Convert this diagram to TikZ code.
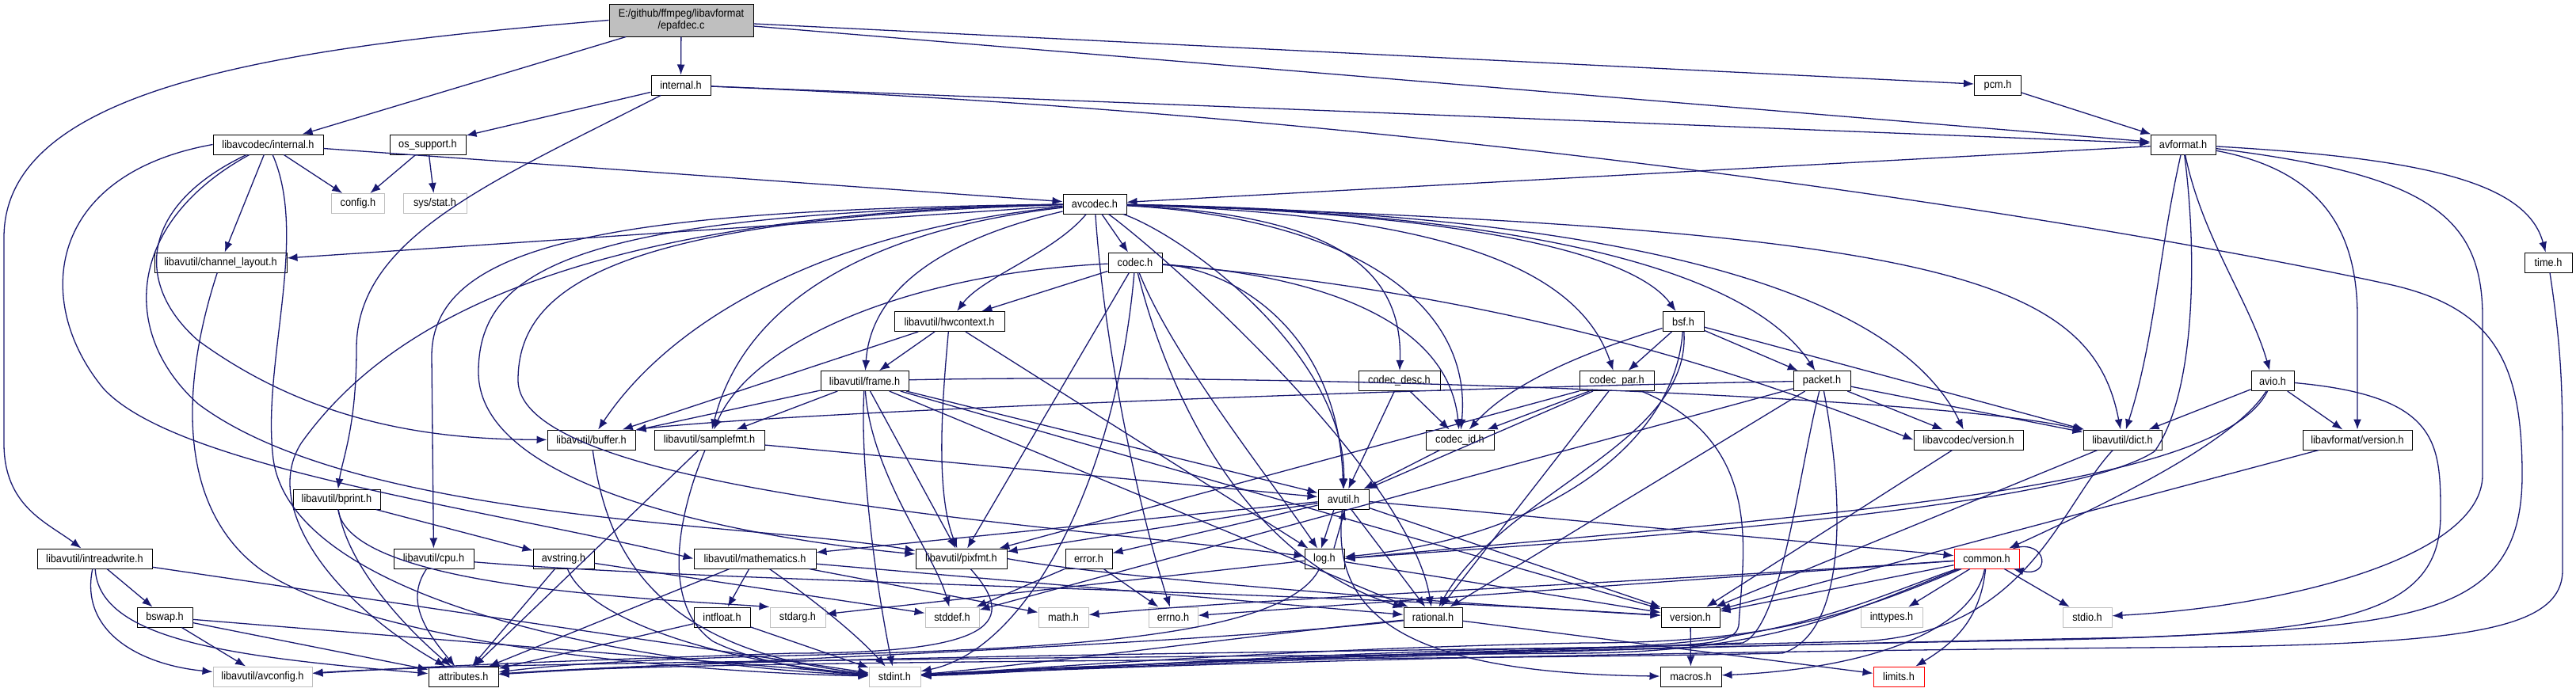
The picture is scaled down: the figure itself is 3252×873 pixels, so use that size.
\documentclass[tikz,border=0pt]{standalone}
\usepackage{fontspec}
\setmainfont{Liberation Sans}[FakeStretch=0.91]
\usetikzlibrary{arrows.meta}

\definecolor{depblue}{HTML}{191970}
\definecolor{extgray}{HTML}{BFBFBF}
\definecolor{rootgray}{HTML}{BFBFBF}
\newcommand{\hdrfont}{\fontsize{14pt}{15pt}\selectfont}

\begin{document}
\begin{tikzpicture}[
    x=1pt, y=-1pt,
    doc/.style={draw=black, line width=1pt, fill=white, minimum height=25pt, inner xsep=4pt, inner ysep=0pt, font=\hdrfont},
    ext/.style={doc, draw=extgray},
    trunc/.style={doc, draw=red},
    rootnode/.style={doc, fill=rootgray, minimum height=41pt, align=center},
    dep/.style={draw=depblue, line width=1.3pt, -{Latex[length=13pt,width=10pt]}}
]
\useasboundingbox (0,0) rectangle (3252,873);

% files
\node[rootnode, minimum width=182pt] (epafdec) at (860,25.5) {E:/github/ffmpeg/libavformat\\/epafdec.c};
\node[doc, minimum width=75pt] (lavfint) at (859.5,107.5) {internal.h};
\node[doc, minimum width=59pt] (pcm) at (2522,107.5) {pcm.h};
\node[doc, minimum width=139pt] (lavcint) at (338.5,182.5) {libavcodec/internal.h};
\node[doc, minimum width=96pt] (ossup) at (540,182.5) {os\_support.h};
\node[doc, minimum width=82pt] (avformat) at (2756,182.5) {avformat.h};
\node[ext, minimum width=67pt] (config) at (452,257) {config.h};
\node[ext, minimum width=80pt] (sysstat) at (549,257) {sys/stat.h};
\node[doc, minimum width=80pt] (avcodec) at (1382,257.5) {avcodec.h};
\node[doc, minimum width=167pt] (chlayout) at (278.5,331.5) {libavutil/channel\_layout.h};
\node[doc, minimum width=68pt] (codec) at (1433,331.5) {codec.h};
\node[doc, minimum width=60pt] (timeh) at (3217,331.5) {time.h};
\node[doc, minimum width=139pt] (hwctx) at (1198.5,406) {libavutil/hwcontext.h};
\node[doc, minimum width=52pt] (bsf) at (2125,406) {bsf.h};
\node[doc, minimum width=111pt] (frame) at (1091.5,481) {libavutil/frame.h};
\node[doc, minimum width=103pt] (codecdesc) at (1766.5,481) {codec\_desc.h};
\node[doc, minimum width=94pt] (codecpar) at (2041,481) {codec\_par.h};
\node[doc, minimum width=72pt] (packet) at (2300,481) {packet.h};
\node[doc, minimum width=54pt] (avio) at (2869,481) {avio.h};
\node[doc, minimum width=111pt] (buffer) at (746.5,555.5) {libavutil/buffer.h};
\node[doc, minimum width=139pt] (samplefmt) at (895.5,555.5) {libavutil/samplefmt.h};
\node[doc, minimum width=86pt] (codecid) at (1843,555.5) {codec\_id.h};
\node[doc, minimum width=138pt] (lavcver) at (2485,555.5) {libavcodec/version.h};
\node[doc, minimum width=99pt] (dict) at (2679.5,555.5) {libavutil/dict.h};
\node[doc, minimum width=138pt] (lavfver) at (2976,555.5) {libavformat/version.h};
\node[doc, minimum width=110pt] (bprint) at (425,630.5) {libavutil/bprint.h};
\node[doc, minimum width=64pt] (avutil) at (1696,630.5) {avutil.h};
\node[doc, minimum width=145pt] (intrw) at (119.5,705.5) {libavutil/intreadwrite.h};
\node[doc, minimum width=101pt] (cpu) at (547.5,705.5) {libavutil/cpu.h};
\node[doc, minimum width=77pt] (avstring) at (711.5,705.5) {avstring.h};
\node[doc, minimum width=154pt] (mathem) at (953,705.5) {libavutil/mathematics.h};
\node[doc, minimum width=115pt] (pixfmt) at (1213.5,705.5) {libavutil/pixfmt.h};
\node[doc, minimum width=59pt] (error) at (1374.5,705.5) {error.h};
\node[doc, minimum width=50pt] (logh) at (1672,705.5) {log.h};
\node[trunc, minimum width=82pt] (common) at (2508,705.5) {common.h};
\node[doc, minimum width=70pt] (bswap) at (208,779.5) {bswap.h};
\node[doc, minimum width=71pt] (intfloat) at (911.5,779.5) {intfloat.h};
\node[ext, minimum width=70pt] (stdarg) at (1007,779.5) {stdarg.h};
\node[ext, minimum width=68pt] (stddef) at (1202,779.5) {stddef.h};
\node[ext, minimum width=63pt] (mathh) at (1342.5,779.5) {math.h};
\node[ext, minimum width=62pt] (errno) at (1481,779.5) {errno.h};
\node[doc, minimum width=74pt] (rational) at (1809,779.5) {rational.h};
\node[doc, minimum width=74pt] (version) at (2134,779.5) {version.h};
\node[ext, minimum width=78pt] (inttypes) at (2388,779.5) {inttypes.h};
\node[ext, minimum width=62pt] (stdio) at (2635,779.5) {stdio.h};
\node[ext, minimum width=125pt] (avconfig) at (331.5,854.5) {libavutil/avconfig.h};
\node[doc, minimum width=88pt] (attributes) at (585,854.5) {attributes.h};
\node[ext, minimum width=65pt] (stdint) at (1129.5,854.5) {stdint.h};
\node[doc, minimum width=77pt] (macros) at (2134.5,854.5) {macros.h};
\node[trunc, minimum width=64pt] (limits) at (2397,854.5) {limits.h};

% epafdec.c
\draw[dep] (epafdec.west) .. controls (350,60) and (5,110) .. (5,300) -- (5,560) .. controls (5,640) and (60,660) .. (intrw);
\draw[dep] (epafdec) -- (lavcint);
\draw[dep] (epafdec) -- (lavfint);
\draw[dep] (epafdec) -- (pcm);
\draw[dep] (epafdec) -- (avformat);

% internal.h
\draw[dep] (lavfint) -- (ossup);
\draw[dep] (lavfint) -- (avformat);
\draw[dep] (lavfint) .. controls (620,230) and (450,300) .. (450,440) .. controls (450,540) and (432,580) .. (bprint);
\draw[dep] (lavfint) .. controls (1900,150) and (2750,300) .. (3020,360) .. controls (3150,390) and (3184,460) .. (3184,600) .. controls (3184,780) and (3050,790) .. (2700,805) .. controls (2000,818) and (1400,842) .. (stdint);
\draw[dep] (pcm) -- (avformat);

% libavcodec/internal.h
\draw[dep] (lavcint) -- (avcodec);
\draw[dep] (lavcint) -- (config);
\draw[dep] (lavcint) -- (chlayout);
\draw[dep] (lavcint.west) .. controls (60,220) and (40,380) .. (130,490) .. controls (220,590) and (600,640) .. (mathem.west);
\draw[dep] (lavcint) .. controls (175,260) and (170,360) .. (250,430) .. controls (400,540) and (560,555) .. (buffer);
\draw[dep] (lavcint) .. controls (160,280) and (150,420) .. (250,510) .. controls (450,660) and (950,660) .. (pixfmt);
\draw[dep] (lavcint) .. controls (390,300) and (330,460) .. (345,580) .. controls (370,760) and (800,840) .. (stdint);
\draw[dep] (ossup) -- (config);
\draw[dep] (ossup) -- (sysstat);

% avformat.h
\draw[dep] (avformat) -- (avcodec);
\draw[dep] (avformat) .. controls (2725,320) and (2720,430) .. (dict);
\draw[dep] (avformat) .. controls (2775,330) and (2770,500) .. (2720,570) .. controls (2600,650) and (1900,690) .. (logh.east);
\draw[dep] (avformat) .. controls (2780,300) and (2840,380) .. (avio);
\draw[dep] (avformat) .. controls (2930,215) and (2976,290) .. (2976,400) -- (lavfver);
\draw[dep] (avformat) .. controls (3060,220) and (3134,270) .. (3134,400) -- (3134,600) .. controls (3134,700) and (2900,765) .. (stdio);
\draw[dep] (avformat) .. controls (3060,200) and (3190,230) .. (timeh);

% avcodec.h
\draw[dep] (avcodec) -- (codec);
\draw[dep] (avcodec) .. controls (1330,320) and (1240,350) .. (hwctx);
\draw[dep] (avcodec) .. controls (1200,300) and (1100,360) .. (frame);
\draw[dep] (avcodec) .. controls (1100,290) and (940,380) .. (samplefmt);
\draw[dep] (avcodec) .. controls (1050,290) and (850,400) .. (buffer);
\draw[dep] (avcodec) -- (chlayout);
\draw[dep] (avcodec) .. controls (800,265) and (545,300) .. (545,450) -- (cpu);
\draw[dep] (avcodec) .. controls (700,270) and (480,420) .. (380,560) .. controls (330,640) and (420,760) .. (attributes);
\draw[dep] (avcodec) .. controls (750,270) and (604,330) .. (604,470) .. controls (604,620) and (950,680) .. (pixfmt);
\draw[dep] (avcodec) .. controls (780,275) and (654,360) .. (654,480) .. controls (654,620) and (1300,660) .. (logh);
\draw[dep] (avcodec) .. controls (1395,450) and (1440,650) .. (errno);
\draw[dep] (avcodec) .. controls (1500,300) and (1700,450) .. (avutil);
\draw[dep] (avcodec) .. controls (1480,330) and (1780,600) .. (rational);
\draw[dep] (avcodec) .. controls (1650,270) and (1772,320) .. (codecdesc);
\draw[dep] (avcodec) .. controls (1700,275) and (1860,380) .. (codecid);
\draw[dep] (avcodec) .. controls (1800,270) and (1990,330) .. (codecpar);
\draw[dep] (avcodec) .. controls (1900,270) and (2070,330) .. (bsf);
\draw[dep] (avcodec) .. controls (2000,270) and (2220,360) .. (packet);
\draw[dep] (avcodec) .. controls (2100,270) and (2400,380) .. (lavcver);
\draw[dep] (avcodec) .. controls (2450,290) and (2640,350) .. (dict);

% codec.h
\draw[dep] (codec) -- (hwctx);
\draw[dep] (codec) .. controls (1150,345) and (950,430) .. (samplefmt);
\draw[dep] (codec) -- (pixfmt);
\draw[dep] (codec) .. controls (1410,600) and (1300,820) .. (stdint);
\draw[dep] (codec) .. controls (1470,480) and (1560,700) .. (rational);
\draw[dep] (codec) .. controls (1480,450) and (1600,600) .. (logh);
\draw[dep] (codec) .. controls (1560,340) and (1690,420) .. (avutil);
\draw[dep] (codec) .. controls (1700,350) and (1830,420) .. (codecid);
\draw[dep] (codec) .. controls (1900,370) and (2200,470) .. (lavcver.west);

% libavutil/hwcontext.h, libavutil/frame.h
\draw[dep] (hwctx) -- (buffer);
\draw[dep] (hwctx) -- (frame);
\draw[dep] (hwctx) .. controls (1190,500) and (1180,620) .. (pixfmt);
\draw[dep] (hwctx) -- (logh);
\draw[dep] (frame) .. controls (1600,470) and (2450,500) .. (dict);
\draw[dep] (frame) -- (buffer);
\draw[dep] (frame) -- (samplefmt);
\draw[dep] (frame) .. controls (1085,600) and (1110,760) .. (stdint);
\draw[dep] (frame) .. controls (1100,600) and (1180,700) .. (stddef);
\draw[dep] (frame) -- (pixfmt);
\draw[dep] (frame) -- (avutil);
\draw[dep] (frame) -- (rational);
\draw[dep] (frame) -- (version);

% libavutil/samplefmt.h, buffer.h, channel_layout.h
\draw[dep] (samplefmt) -- (attributes);
\draw[dep] (samplefmt) .. controls (860,640) and (830,760) .. (900,810) .. controls (960,840) and (1050,850) .. (stdint);
\draw[dep] (samplefmt) -- (avutil);
\draw[dep] (buffer) .. controls (765,690) and (820,820) .. (stdint);
\draw[dep] (chlayout) .. controls (230,480) and (220,640) .. (330,720) .. controls (480,820) and (900,850) .. (stdint);

% codec_desc.h, codec_id.h, codec_par.h
\draw[dep] (codecdesc) -- (avutil);
\draw[dep] (codecdesc) -- (codecid);
\draw[dep] (codecid) -- (avutil);
\draw[dep] (codecpar) -- (codecid);
\draw[dep] (codecpar) -- (pixfmt);
\draw[dep] (codecpar) -- (avutil);
\draw[dep] (codecpar) -- (rational);
\draw[dep] (codecpar) .. controls (2230,560) and (2200,700) .. (2195,790) .. controls (2190,815) and (2150,815) .. (2000,818) .. controls (1600,825) and (1300,850) .. (stdint);

% packet.h
\draw[dep] (packet) .. controls (1800,490) and (1000,520) .. (buffer.north east);
\draw[dep] (packet) -- (lavcver);
\draw[dep] (packet) -- (dict);
\draw[dep] (packet) -- (stddef);
\draw[dep] (packet) .. controls (2270,600) and (2250,790) .. (2200,812) .. controls (2000,820) and (1350,840) .. (stdint);
\draw[dep] (packet) .. controls (2330,640) and (2330,800) .. (2250,825) .. controls (1800,835) and (900,832) .. (attributes);
\draw[dep] (packet) -- (rational);

% bsf.h
\draw[dep] (bsf) .. controls (2050,430) and (1920,470) .. (codecid);
\draw[dep] (bsf) -- (codecpar);
\draw[dep] (bsf) -- (packet);
\draw[dep] (bsf) -- (dict);
\draw[dep] (bsf) .. controls (2115,560) and (1950,680) .. (logh);
\draw[dep] (bsf) .. controls (2135,560) and (1900,620) .. (rational);

% version files, dict.h
\draw[dep] (lavcver) -- (version);
\draw[dep] (dict) -- (version);
\draw[dep] (dict) .. controls (2600,640) and (2560,800) .. (2350,810) .. controls (1800,822) and (1350,842) .. (stdint);
\draw[dep] (lavfver) -- (version);

% avio.h
\draw[dep] (avio) -- (dict);
\draw[dep] (avio) -- (lavfver);
\draw[dep] (avio) .. controls (2820,560) and (2650,640) .. (common);
\draw[dep] (avio) .. controls (2800,620) and (2300,650) .. (logh.east);
\draw[dep] (avio) .. controls (3080,500) and (3081,560) .. (3081,650) .. controls (3081,780) and (2950,800) .. (2600,808) .. controls (1800,822) and (1350,842) .. (stdint);

% time.h
\draw[dep] (timeh) .. controls (3235,450) and (3235,500) .. (3235,600) -- (3235,720) .. controls (3235,800) and (3100,815) .. (2700,818) .. controls (1800,826) and (1350,845) .. (stdint);

% avutil.h, log.h
\draw[dep] (avutil) -- (common);
\draw[dep] ([xshift=-12pt]avutil.south) -- ([xshift=-4pt]logh.north);
\draw[dep] ([xshift=12pt]logh.north) -- ([xshift=2pt]avutil.south);
\draw[dep] (avutil) -- (rational);
\draw[dep] (avutil) -- (version);
\draw[dep] (avutil) .. controls (1680,770) and (1760,850) .. (macros);
\draw[dep] (avutil) -- (mathem);
\draw[dep] (avutil) -- (pixfmt);
\draw[dep] (avutil) -- (error);
\draw[dep] (logh) -- (stdarg);
\draw[dep] (logh) .. controls (1620,810) and (1300,820) .. (1000,828) .. controls (800,833) and (700,840) .. (attributes);
\draw[dep] (logh) -- (version);

% common.h
\draw[dep] ([xshift=-8pt]common.north east) .. controls (2585,680) and (2590,730) .. ([xshift=-8pt]common.south east);
\draw[dep] (common) -- (inttypes);
\draw[dep] (common) -- (stdio);
\draw[dep] (common) .. controls (2500,780) and (2470,810) .. (limits);
\draw[dep] (common) .. controls (2490,800) and (2350,845) .. (macros);
\draw[dep] (common) -- (version);
\draw[dep] (common) -- (errno);
\draw[dep] (common) .. controls (2000,740) and (1600,755) .. (mathh);
\draw[dep] (common) .. controls (2350,760) and (2250,815) .. (2000,818) .. controls (1500,825) and (900,832) .. (attributes);
\draw[dep] (common) .. controls (2350,765) and (2250,822) .. (2000,825) .. controls (1400,830) and (600,836) .. (avconfig);
\draw[dep] (common) .. controls (2350,770) and (2250,812) .. (2000,812) .. controls (1600,820) and (1300,845) .. (stdint);

% libavutil/mathematics.h, intfloat.h, pixfmt.h, error.h, rational.h
\draw[dep] (mathem) -- (intfloat);
\draw[dep] (mathem) -- (attributes);
\draw[dep] (mathem) .. controls (1030,760) and (1080,800) .. (stdint);
\draw[dep] (mathem) -- (mathh);
\draw[dep] (mathem) -- (rational);
\draw[dep] (intfloat) -- (attributes);
\draw[dep] (intfloat) -- (stdint);
\draw[dep] (pixfmt) .. controls (1285,785) and (1260,825) .. (1000,825) .. controls (800,832) and (600,838) .. (avconfig);
\draw[dep] (pixfmt.east) .. controls (1400,730) and (1800,760) .. (version);
\draw[dep] (error) -- (stddef);
\draw[dep] (error) -- (errno);
\draw[dep] (rational) -- (limits);
\draw[dep] (rational) .. controls (1600,800) and (1300,840) .. (stdint);
\draw[dep] (rational) .. controls (1500,815) and (900,835) .. (attributes);
\draw[dep] (version) -- (macros);

% libavutil/bprint.h, cpu.h, avstring.h
\draw[dep] (bprint) .. controls (440,740) and (800,755) .. (stdarg.north west);
\draw[dep] (bprint) .. controls (440,720) and (520,800) .. (attributes);
\draw[dep] (bprint) -- (avstring);
\draw[dep] (cpu) .. controls (510,760) and (540,800) .. (attributes);
\draw[dep] (cpu) .. controls (900,735) and (1600,745) .. (version);
\draw[dep] (avstring) -- (attributes);
\draw[dep] (avstring) -- (stddef);
\draw[dep] (avstring) .. controls (740,780) and (900,835) .. (stdint);

% libavutil/intreadwrite.h, bswap.h
\draw[dep] (intrw) .. controls (100,800) and (180,840) .. (avconfig);
\draw[dep] (intrw) .. controls (125,810) and (300,830) .. (attributes);
\draw[dep] (intrw) -- (bswap);
\draw[dep] (intrw) -- (stdint);
\draw[dep] (bswap) -- (avconfig);
\draw[dep] (bswap) -- (attributes);
\draw[dep] (bswap) -- (stdint);

\end{tikzpicture}
\end{document}
